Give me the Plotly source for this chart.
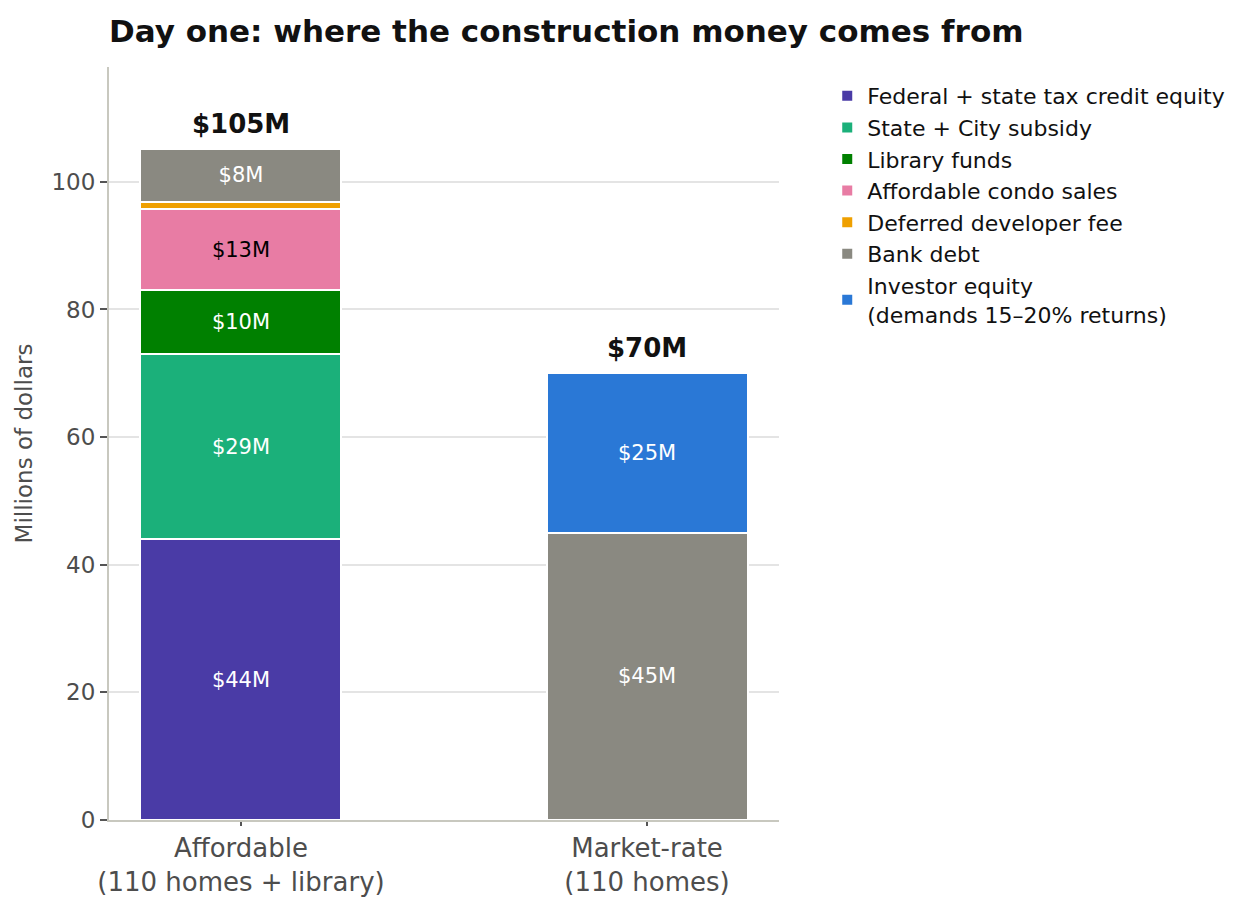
import plotly.graph_objects as go

categories = ["Affordable<br>(110 homes + library)", "Market-rate<br>(110 homes)"]

sources = [
    "Federal + state tax credit equity",
    "State + City subsidy",
    "Library funds",
    "Affordable condo sales",
    "Deferred developer fee",
    "Bank debt",
    "Investor equity<br>(demands 15–20% returns)",
]

# millions of dollars, one value per category (None = not used)
affordable = [44, 29, 10, 12.8, 1.1, 8.3, None]
market_rate = [None, None, None, None, None, 45, 25]

colors = ["#4a3ba6", "#1bb07a", "#008000", "#e87ca4", "#efa000", "#8a8981", "#2a78d6"]
label_colors = ["white", "white", "white", "black", "white", "white", "white"]

FONT = "DejaVu Sans"

fig = go.Figure()
for name, a, m, c, lc in zip(sources, affordable, market_rate, colors, label_colors):
    vals = [a, m]
    labels = ["" if v is None or v < 3 else "$%.0fM" % v for v in vals]
    fig.add_trace(go.Bar(
        x=categories,
        y=vals,
        name=name,
        marker=dict(color=c, line=dict(color="white", width=2)),
        text=labels,
        textposition="inside",
        insidetextanchor="middle",
        textangle=0,
        textfont=dict(family=FONT, size=21, color=lc),
        width=0.495,
    ))

totals = [sum(v for v in vals if v is not None) for vals in (affordable, market_rate)]
for cat, tot in zip(categories, totals):
    fig.add_annotation(
        x=cat, y=tot, text="<b>$%.0fM</b>" % tot,
        showarrow=False, yanchor="bottom", yshift=8,
        font=dict(family=FONT, size=26, color="#111111"),
    )

# the page adds an 8px body margin, so the figure is drawn 8px smaller
W, H = 1239, 898
fig.update_layout(
    width=W, height=H,
    barmode="stack",
    plot_bgcolor="white", paper_bgcolor="white",
    margin=dict(l=101, r=468, t=59, b=86, autoexpand=False),
    font=dict(family=FONT, color="#4d4d4d"),
    title=dict(
        text="<b>Day one: where the construction money comes from</b>",
        x=101 / W, xanchor="left", xref="container",
        y=1 - 12 / H, yanchor="top",
        font=dict(family=FONT, size=31, color="#111111"),
    ),
    legend=dict(
        x=1.072, y=1 - 8 / 753, xanchor="left", yanchor="top",
        traceorder="normal",
        font=dict(family=FONT, size=22, color="#111111"),
        bgcolor="rgba(0,0,0,0)",
    ),
)

fig.update_xaxes(
    range=[-0.325, 1.325], automargin=False,
    showline=True, linecolor="#c8c8bf", linewidth=2,
    ticks="outside", ticklen=4, tickcolor="#555555", tickwidth=1.5,
    tickfont=dict(family=FONT, size=26, color="#4d4d4d"),
    showgrid=False,
)
fig.update_yaxes(
    range=[0, 118], dtick=20, automargin=False,
    showline=True, linecolor="#c8c8bf", linewidth=2,
    ticks="outside", ticklen=7, tickcolor="#555555", tickwidth=1.5,
    tickfont=dict(family=FONT, size=23, color="#4d4d4d"),
    showgrid=True, gridcolor="#e4e4e4", gridwidth=1.5,
    zeroline=False,
    title=dict(text="Millions of dollars", standoff=12,
               font=dict(family=FONT, size=23, color="#4d4d4d")),
)

fig.write_html("out.html")
